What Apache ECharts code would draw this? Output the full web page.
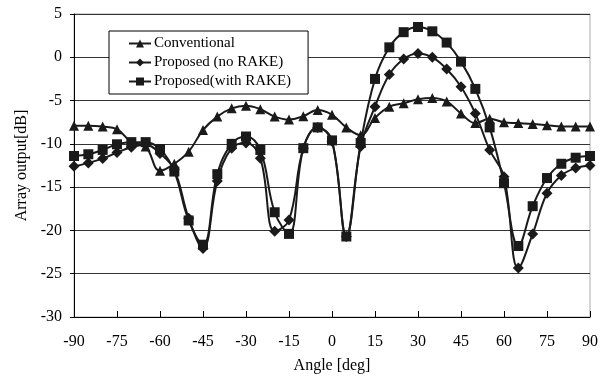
<!DOCTYPE html>
<html>
<head>
<meta charset="utf-8">
<script src="https://cdn.jsdelivr.net/npm/echarts@6/dist/echarts.min.js"></script>
<style>html,body{margin:0;padding:0;background:#fff}#c{width:608px;height:384px}</style>
</head>
<body>
<div id="c"></div>
<script>
const angles = [-90,-85,-80,-75,-70,-65,-60,-55,-50,-45,-40,-35,-30,-25,-20,-15,-10,-5,0,5,10,15,20,25,30,35,40,45,50,55,60,65,70,75,80,85,90];
const conventional = [-7.9,-7.9,-8.0,-8.3,-9.8,-10.3,-13.1,-12.3,-10.9,-8.4,-6.85,-5.9,-5.6,-6.0,-6.85,-7.2,-6.8,-6.1,-6.65,-8.1,-9.0,-7.0,-5.7,-5.3,-4.85,-4.7,-5.1,-6.5,-7.6,-7.1,-7.5,-7.6,-7.7,-7.85,-8.0,-8.0,-8.0];
const noRake = [-12.6,-12.2,-11.7,-11.0,-10.4,-10.1,-11.1,-13.0,-18.6,-22.1,-14.3,-10.5,-9.9,-11.65,-20.1,-18.8,-10.5,-8.1,-9.7,-20.7,-10.3,-5.7,-2.0,-0.2,0.45,0.0,-1.35,-3.4,-6.5,-10.7,-13.8,-24.35,-20.4,-15.7,-13.65,-12.8,-12.5];
const withRake = [-11.4,-11.2,-10.7,-10.05,-9.8,-9.8,-10.6,-13.2,-18.85,-21.65,-13.5,-10.0,-9.15,-10.7,-17.9,-20.4,-10.5,-8.1,-9.6,-20.7,-9.9,-2.5,1.15,2.9,3.5,3.0,1.7,-0.5,-3.65,-8.1,-14.55,-21.8,-17.2,-13.95,-12.3,-11.6,-11.4];
const seriesNames = ['Conventional','Proposed (no RAKE)','Proposed(with RAKE)'];
const xTicks = {min:-90, max:90, interval:15};
const yTicks = {min:-30, max:5, interval:5};

const font = '"Liberation Serif","Times New Roman",serif';
const pair = arr => angles.map((a,i)=>[a, arr[i]]);
function mk(name, data, symbol, size){
  return {
    name, type:'line', data: pair(data), smooth:0.4,
    symbol, symbolSize:size,
    lineStyle:{color:'#1a1a1a', width:2},
    itemStyle:{color:'#1a1a1a'},
    emphasis:{disabled:true}
  };
}
const chart = echarts.init(document.getElementById('c'), null, {renderer:'canvas'});
chart.setOption({
  animation:false,
  backgroundColor:'#fff',
  grid:{left:74, right:18, top:14, bottom:67, show:true, borderColor:'#aaa', borderWidth:1, containLabel:false},
  legend:{
    orient:'vertical', left:109, top:31,
    padding:[5,17,5,19], itemGap:4, itemWidth:22, itemHeight:10,
    borderColor:'#000', borderWidth:1, backgroundColor:'#fff',
    textStyle:{fontFamily:font, fontSize:15, color:'#000', padding:[0,0,0,-2]},
    data: seriesNames
  },
  xAxis:{
    type:'value', min:xTicks.min, max:xTicks.max, interval:xTicks.interval,
    name:'Angle [deg]', nameLocation:'middle', nameGap:41,
    nameTextStyle:{fontFamily:font, fontSize:16, color:'#000'},
    axisLine:{onZero:false, lineStyle:{color:'#000', width:1}},
    axisTick:{inside:true, length:6, lineStyle:{color:'#000'}},
    axisLabel:{fontFamily:font, fontSize:16, color:'#000', margin:17},
    splitLine:{show:false}
  },
  yAxis:{
    type:'value', min:yTicks.min, max:yTicks.max, interval:yTicks.interval,
    name:'Array output[dB]', nameLocation:'middle', nameGap:44,
    nameTextStyle:{fontFamily:font, fontSize:16, color:'#000'},
    axisLine:{show:true, onZero:false, lineStyle:{color:'#000', width:1}},
    axisTick:{show:true, length:4, lineStyle:{color:'#000'}},
    axisLabel:{fontFamily:font, fontSize:16, color:'#000', margin:12},
    splitLine:{show:true, lineStyle:{color:'#333', width:1}}
  },
  series:[
    mk(seriesNames[0], conventional, 'triangle', 10),
    mk(seriesNames[1], noRake, 'diamond', 11),
    mk(seriesNames[2], withRake, 'rect', 10)
  ]
});
</script>
</body>
</html>
